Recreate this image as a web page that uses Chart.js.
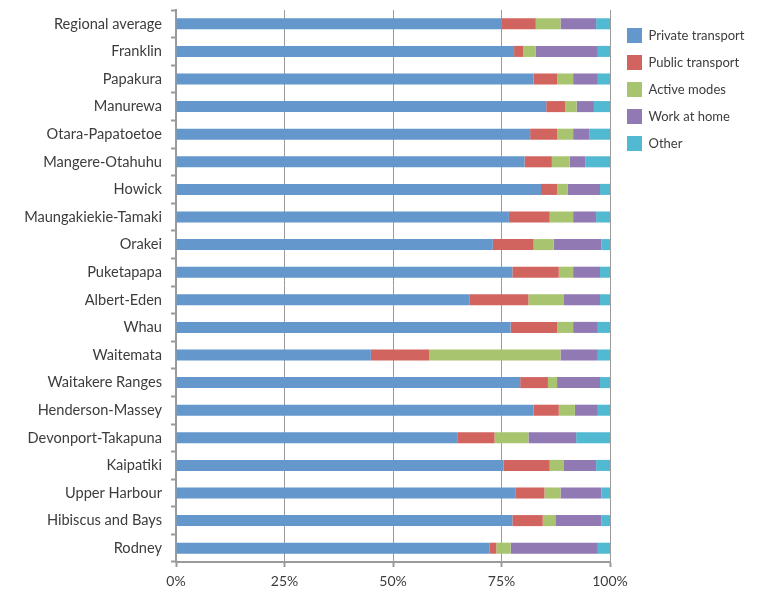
<!DOCTYPE html>
<html>
<head>
<meta charset="utf-8">
<script src="https://cdn.jsdelivr.net/npm/chart.js@4/dist/chart.umd.min.js"></script>
<style>
  html, body { margin: 0; padding: 0; background: #fff; }
  #wrap { width: 757px; height: 603px; position: relative; }
</style>
</head>
<body>
<div id="wrap"><canvas id="commute-chart"></canvas></div>
<script>
// --- Data ---
const categories = [
    'Regional average', 'Franklin', 'Papakura', 'Manurewa', 'Otara-Papatoetoe',
    'Mangere-Otahuhu', 'Howick', 'Maungakiekie-Tamaki', 'Orakei', 'Puketapapa',
    'Albert-Eden', 'Whau', 'Waitemata', 'Waitakere Ranges', 'Henderson-Massey',
    'Devonport-Takapuna', 'Kaipatiki', 'Upper Harbour', 'Hibiscus and Bays', 'Rodney'
];
const privateTransport = [75.0, 77.9, 82.4, 85.3, 81.6, 80.3, 84.1, 76.7, 73.0, 77.5, 67.7, 77.1, 44.9, 79.3, 82.4, 64.8, 75.5, 78.3, 77.5, 72.2];
const publicTransport  = [7.9, 2.1, 5.4, 4.4, 6.2, 6.3, 3.7, 9.4, 9.4, 10.7, 13.5, 10.7, 13.4, 6.4, 5.8, 8.6, 10.6, 6.6, 7.0, 1.6];
const activeModes      = [5.7, 2.9, 3.7, 2.6, 3.7, 4.1, 2.4, 5.4, 4.6, 3.3, 8.2, 3.7, 30.3, 2.1, 3.7, 7.8, 3.3, 3.7, 2.9, 3.3];
const workAtHome       = [8.2, 14.3, 5.7, 4.0, 3.7, 3.6, 7.5, 5.3, 11.0, 6.2, 8.3, 5.7, 8.6, 9.9, 5.3, 11.0, 7.4, 9.4, 10.6, 20.1];
const other            = [3.2, 2.8, 2.8, 3.7, 4.8, 5.7, 2.3, 3.2, 2.0, 2.3, 2.3, 2.8, 2.8, 2.3, 2.8, 7.8, 3.2, 2.0, 2.0, 2.8];
const xTicks = [0, 25, 50, 75, 100];

const AXIS_GREY = '#9a9a9a';
const TEXT = '#3c3c3c';

// legend sits in a fixed 147px column to the right of the plot
const legendColumn = {
    id: 'legendColumn',
    beforeInit(chart) {
        const origFit = chart.legend.fit;
        chart.legend.fit = function () {
            origFit.bind(chart.legend)();
            this.width = 147;
        };
    },
    afterLayout(chart) {
        chart.legend.left += 5;
        chart.legend.top += 6;
    }
};

new Chart(document.getElementById('commute-chart'), {
    type: 'bar',
    data: {
        labels: categories,
        datasets: [
            { label: 'Private transport', data: privateTransport, backgroundColor: '#6497cb' },
            { label: 'Public transport', data: publicTransport, backgroundColor: '#d1645e' },
            { label: 'Active modes', data: activeModes, backgroundColor: '#a9c46f' },
            { label: 'Work at home', data: workAtHome, backgroundColor: '#9179b3' },
            { label: 'Other', data: other, backgroundColor: '#51b9d1' }
        ]
    },
    options: {
        indexAxis: 'y',
        responsive: true,
        maintainAspectRatio: false,
        animation: false,
        layout: { padding: { top: 10 } },
        datasets: { bar: { barPercentage: 0.4, categoryPercentage: 1 } },
        scales: {
            x: {
                stacked: true,
                min: 0,
                max: 100,
                afterBuildTicks(scale) { scale.ticks = xTicks.map(v => ({ value: v })); },
                afterFit(scale) { scale.height = 41; },
                grid: { color: AXIS_GREY, lineWidth: 1, tickLength: 5, tickWidth: 2, tickColor: AXIS_GREY },
                border: { color: AXIS_GREY, width: 2 },
                ticks: {
                    padding: 6,
                    color: TEXT,
                    font: { family: 'Lato', size: 14 },
                    callback: v => v + '%'
                }
            },
            y: {
                stacked: true,
                afterFit(scale) {
                    scale.width = 176;
                    scale.paddingTop = 0;
                    scale.paddingBottom = 0;
                },
                grid: { drawOnChartArea: false, tickLength: 5, tickWidth: 2, tickColor: AXIS_GREY },
                border: { color: AXIS_GREY, width: 2 },
                ticks: {
                    padding: 9,
                    color: TEXT,
                    autoSkip: false,
                    font: { family: 'Lato', size: 14.6 }
                }
            }
        },
        plugins: {
            legend: {
                position: 'right',
                align: 'start',
                labels: {
                    boxWidth: 15,
                    boxHeight: 15,
                    padding: 12,
                    color: TEXT,
                    font: { family: 'Lato', size: 13 }
                }
            },
            tooltip: { enabled: false }
        }
    },
    plugins: [legendColumn]
});
</script>
</body>
</html>
